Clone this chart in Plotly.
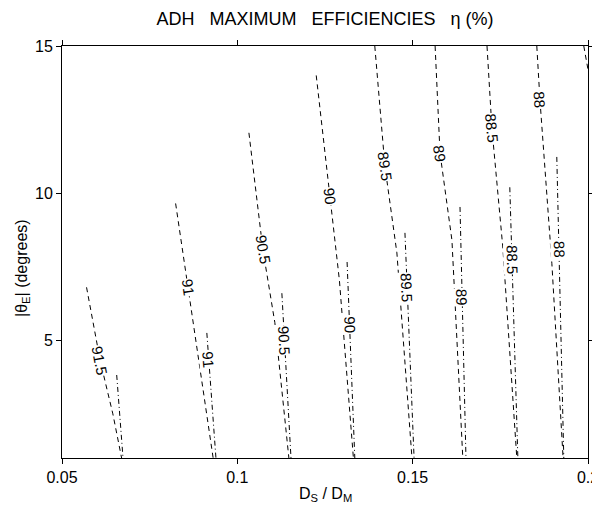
import math
import numpy as np
import plotly.graph_objects as go

# ---- data ----
levels = [91.5, 91, 90.5, 90, 89.5, 89, 88.5, 88]

# dashed contours (first set)
dash_x = [
    [0.0570, 0.0609, 0.0645, 0.0670],
    [0.0824, 0.0859, 0.0902, 0.0931],
    [0.1033, 0.1073, 0.1107, 0.1147],
    [0.1225, 0.1264, 0.1291, 0.1331],
    [0.1392, 0.1421, 0.1455, 0.1498],
    [0.1564, 0.1578, 0.1612, 0.1643],
    [0.1712, 0.1726, 0.1757, 0.1797],
    [0.1854, 0.1863, 0.1897, 0.1929],
]
dash_y = [
    [6.8, 4.3, 2.5, 1.0],
    [9.65, 6.8, 3.2, 1.0],
    [12.05, 8.07, 5.6, 1.0],
    [14.0, 9.88, 7.05, 1.0],
    [15.0, 10.9, 7.97, 1.0],
    [15.0, 11.36, 8.4, 1.0],
    [15.0, 12.2, 8.17, 1.0],
    [15.0, 13.16, 7.6, 1.0],
]
dash_label_y = [4.33, 6.78, 8.07, 9.88, 10.9, 11.36, 12.2, 13.16]

# short piece of the next contour entering the top-right corner
corner_x = [0.1988, 0.2003]
corner_y = [15.0, 14.0]

# dash-dot contours (second set)
dashdot_x = [
    [0.0656, 0.0674],
    [0.0913, 0.0939],
    [0.1127, 0.1153],
    [0.1313, 0.1335],
    [0.1478, 0.1504],
    [0.1635, 0.1652],
    [0.1777, 0.1800],
    [0.1911, 0.1931],
]
dashdot_y = [
    [3.82, 1.0],
    [5.25, 1.0],
    [6.6, 1.0],
    [7.66, 1.0],
    [8.65, 1.0],
    [9.53, 1.0],
    [10.2, 1.0],
    [11.23, 1.0],
]
dashdot_label_y = [None, 4.33, 5.0, 5.52, 6.81, 6.47, 7.73, 8.07]

x_ticks = [0.05, 0.1, 0.15, 0.2]
x_ticktext = ["0.05", "0.1", "0.15", "0.2"]
y_ticks = [5, 10, 15]
y_ticktext = ["5", "10", "15"]

# ---- figure ----
# the page body has an 8px margin, so the figure is drawn at (8, 8) in the window
OFF = 8
W, H = 600 - OFF, 512 - 2 * OFF
ML, MT = 62 - OFF, 46 - OFF
MR = W - (588 - OFF)
MB = H - (458 - OFF)
XR = [0.05, 0.2]
YR = [1.0, 15.0]
PW = W - ML - MR
PH = H - MT - MB
px_x = PW / (XR[1] - XR[0])
px_y = PH / (YR[1] - YR[0])

FONT = "Liberation Sans, Arial, Helvetica, sans-serif"

fig = go.Figure()
ann = []


def add_line(xs, ys, dash):
    fig.add_trace(go.Scatter(x=xs, y=ys, mode="lines",
                             line=dict(color="black", width=1, dash=dash),
                             hoverinfo="skip", showlegend=False))


def label_on(xs, ys, ly, text):
    # interpolate x at label height, angle from local slope (screen coords)
    yy = np.array(ys)[::-1]
    xx = np.array(xs)[::-1]
    lx = float(np.interp(ly, yy, xx))
    i = int(np.clip(np.searchsorted(yy, ly), 1, len(yy) - 1))
    dxs = (xx[i - 1] - xx[i]) * px_x
    dys = (yy[i] - yy[i - 1]) * px_y
    ang = math.degrees(math.atan2(dys, dxs))
    ann.append(dict(x=lx, y=ly, xref="x", yref="y", text=text, showarrow=False,
                    textangle=ang, bgcolor="white", borderpad=0,
                    font=dict(size=15, color="black", family=FONT)))


DASH = "5px,4px"
DASHDOT = "5px,3px,1px,3px"

for k, lev in enumerate(levels):
    add_line(dash_x[k], dash_y[k], DASH)
    add_line(dashdot_x[k], dashdot_y[k], DASHDOT)
add_line(corner_x, corner_y, DASH)

for k, lev in enumerate(levels):
    txt = ("%g" % lev)
    label_on(dash_x[k], dash_y[k], dash_label_y[k], txt)
    if dashdot_label_y[k] is not None:
        label_on(dashdot_x[k], dashdot_y[k], dashdot_label_y[k], txt)

# axis titles placed as paper annotations (window pixel targets minus offset)
ann.append(dict(xref="paper", yref="paper",
                x=(325 - OFF - ML) / PW, y=(H - MB - (494 - OFF)) / PH,
                text="D<sub>S</sub> / D<sub>M</sub>", showarrow=False,
                xanchor="center", yanchor="middle",
                font=dict(size=16, family=FONT, color="black")))
ann.append(dict(xref="paper", yref="paper",
                x=(22 - OFF - ML) / PW, y=(H - MB - (268 - OFF)) / PH,
                text="|\u03b8<sub>E</sub>| (degrees)", showarrow=False, textangle=-90,
                xanchor="center", yanchor="middle",
                font=dict(size=16, family=FONT, color="black")))

S = "\u00a0\u00a0\u00a0"
fig.update_layout(
    width=W, height=H,
    margin=dict(l=ML, r=MR, t=MT, b=MB, autoexpand=False),
    plot_bgcolor="white", paper_bgcolor="white",
    font=dict(family=FONT, size=16, color="black"),
    showlegend=False,
    title=dict(text="ADH" + S + "MAXIMUM" + S + "EFFICIENCIES" + S + "\u03b7 (%)",
               x=(ML + PW / 2) / W, xanchor="center",
               y=1 - (19 - OFF) / H, yanchor="middle", automargin=False,
               font=dict(size=18, family=FONT, color="black")),
    annotations=ann,
)
fig.update_xaxes(range=XR, tickvals=x_ticks, ticktext=x_ticktext,
                 ticks="outside", ticklen=5, tickcolor="black", mirror="allticks",
                 showline=True, linecolor="black", linewidth=1,
                 showgrid=False, zeroline=False, automargin=False,
                 tickfont=dict(size=16))
fig.update_yaxes(range=YR, tickvals=y_ticks, ticktext=y_ticktext,
                 ticks="outside", ticklen=5, tickcolor="black", mirror="allticks",
                 showline=True, linecolor="black", linewidth=1,
                 showgrid=False, zeroline=False, automargin=False,
                 tickfont=dict(size=16))

fig.write_html("out.html")
